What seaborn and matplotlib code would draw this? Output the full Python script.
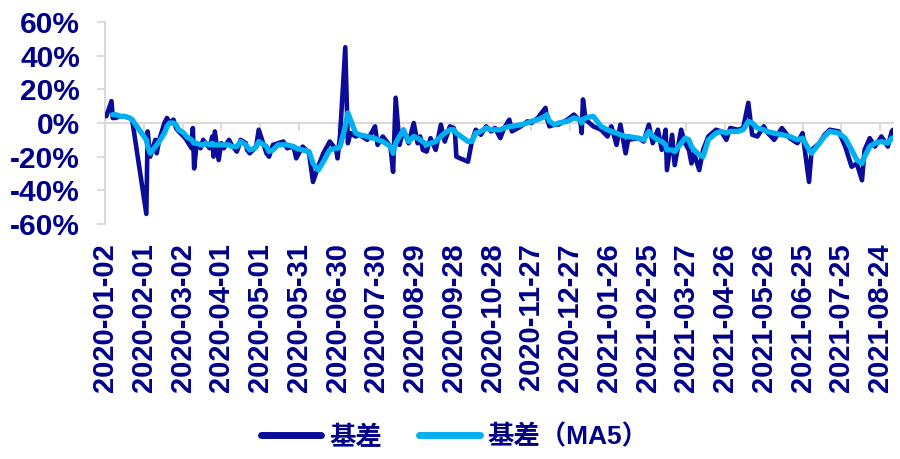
# Basis vs basis MA5 line chart (daily, 2020-01 .. 2021-09)
import numpy as np
import pandas as pd
import seaborn as sns
import matplotlib.pyplot as plt
from matplotlib.ticker import FuncFormatter

# ---- data (values in %) ----
dates = [
    '2020-01-02', '2020-01-03', '2020-01-07', '2020-01-08', '2020-01-10', '2020-01-14', '2020-01-17', '2020-01-21',
    '2020-01-23', '2020-02-03', '2020-02-04', '2020-02-06', '2020-02-10', '2020-02-11', '2020-02-13', '2020-02-17',
    '2020-02-19', '2020-02-21', '2020-02-24', '2020-02-26', '2020-02-28', '2020-03-03', '2020-03-05', '2020-03-09',
    '2020-03-10', '2020-03-11', '2020-03-13', '2020-03-16', '2020-03-18', '2020-03-20', '2020-03-23', '2020-03-25',
    '2020-03-26', '2020-03-27', '2020-03-30', '2020-04-01', '2020-04-03', '2020-04-07', '2020-04-09', '2020-04-13',
    '2020-04-14', '2020-04-16', '2020-04-20', '2020-04-21', '2020-04-23', '2020-04-27', '2020-04-28', '2020-04-30',
    '2020-05-06', '2020-05-08',
    '2020-05-11', '2020-05-15', '2020-05-19', '2020-05-22', '2020-05-27', '2020-05-29', '2020-06-03', '2020-06-08',
    '2020-06-11', '2020-06-15', '2020-06-19', '2020-06-24', '2020-06-29', '2020-06-30', '2020-07-02', '2020-07-06',
    '2020-07-08', '2020-07-10', '2020-07-14', '2020-07-17', '2020-07-23', '2020-07-27', '2020-07-29', '2020-07-31',
    '2020-08-04', '2020-08-10', '2020-08-12', '2020-08-14', '2020-08-17', '2020-08-20', '2020-08-24', '2020-08-28',
    '2020-08-31', '2020-09-02', '2020-09-04',
    '2020-09-07', '2020-09-10', '2020-09-14', '2020-09-18', '2020-09-21', '2020-09-25', '2020-09-28', '2020-09-29',
    '2020-09-30', '2020-10-09', '2020-10-12', '2020-10-15', '2020-10-19', '2020-10-23', '2020-10-27', '2020-10-30',
    '2020-11-03', '2020-11-06', '2020-11-10', '2020-11-12', '2020-11-19', '2020-11-24', '2020-11-27', '2020-12-02',
    '2020-12-08', '2020-12-09', '2020-12-11', '2020-12-15', '2020-12-18', '2020-12-25', '2020-12-30', '2021-01-04',
    '2021-01-05', '2021-01-06', '2021-01-08',
    '2021-01-14', '2021-01-20', '2021-01-25', '2021-01-28', '2021-02-01', '2021-02-04', '2021-02-08', '2021-02-10',
    '2021-02-18', '2021-02-22', '2021-02-26', '2021-03-01', '2021-03-05', '2021-03-08', '2021-03-11', '2021-03-12',
    '2021-03-16', '2021-03-18', '2021-03-23', '2021-03-26', '2021-03-29', '2021-03-31', '2021-04-02', '2021-04-06',
    '2021-04-09', '2021-04-13', '2021-04-19', '2021-04-23', '2021-04-27', '2021-04-30', '2021-05-06', '2021-05-10',
    '2021-05-14',
    '2021-05-17', '2021-05-21', '2021-05-26', '2021-05-28', '2021-06-03', '2021-06-09', '2021-06-15', '2021-06-21',
    '2021-06-25', '2021-06-30', '2021-07-02', '2021-07-08', '2021-07-12', '2021-07-16', '2021-07-23', '2021-07-28',
    '2021-08-02', '2021-08-06', '2021-08-10', '2021-08-12', '2021-08-16', '2021-08-20', '2021-08-25', '2021-08-30',
    '2021-09-02', '2021-09-03',
]

basis = [
    5, 4, 13, 3, 3, 4, 4, 3,
    2, -54, -5, -20, -10, -18, -10, 0,
    3, 0, 2, -3, -5, -8, -10, -15,
    -3, -27, -12, -15, -10, -12, -15, -8,
    -20, -5, -22, -12, -15, -10, -13, -17,
    -15, -10, -12, -16, -18, -15, -14, -4,
    -18, -20,
    -13, -12, -11, -15, -14, -21, -14, -18,
    -35, -26, -18, -11, -16, -21, -7, 45,
    -12, -6, -8, -7, -10, -5, -2, -13,
    -8, -14, -29, 15, -13, -4, -12, 0,
    -12, -8, -16,
    -17, -9, -16, -1, -11, -2, -3, -7,
    -20, -23, -11, -4, -7, -2, -5, -3,
    -9, -3, 2, -5, -2, 1, 0, 3,
    9, 3, -2, -1, -1, 2, 5, 1,
    -6, 14, 2,
    -2, -4, -8, -2, -13, -1, -18, -10,
    -9, -11, -1, -12, -4, -16, -4, -28,
    -7, -25, -4, -12, -16, -24, -18, -28,
    -16, -8, -4, -5, -10, -3, -4, -3,
    12,
    -7, -8, -2, -5, -10, -3, -9, -12,
    -6, -35, -16, -12, -7, -4, -5, -14,
    -26, -24, -34, -16, -9, -14, -8, -14,
    -5, -4,
]

basis_ma5 = [
    np.nan, np.nan, np.nan, 5, 5, 4, 4, 3,
    2, -10, -14, -18, -14, -13, -11, -6,
    -2, 0, 0, -1, -4, -6, -8, -10,
    -11, -12, -12, -13, -13, -12, -13, -12,
    -13, -13, -13, -13, -13, -13, -14, -14,
    -13, -11, -13, -14, -16, -15, -14, -11,
    -14, -17,
    -16, -13, -13, -13, -14, -15, -16, -17,
    -24, -28, -23, -16, -15, -15, -14, -2,
    6, 2, -6, -7, -8, -9, -9, -10,
    -11, -14, -18, -12, -8, -4, -11, -8,
    -9, -10, -11,
    -13, -12, -11, -8, -6, -4, -4, -5,
    -6, -11, -11, -6, -5, -3, -4, -4,
    -4, -3, -2, -2, -1, 0, 1, 2,
    4, 5, 1, -1, 0, 1, 3, 2,
    0, 2, 3,
    4, -2, -4, -5, -6, -7, -8, -8,
    -9, -10, -5, -8, -10, -11, -13, -16,
    -16, -17, -12, -9, -10, -14, -16, -19,
    -20, -10, -6, -5, -6, -5, -5, -4,
    1,
    0, -3, -4, -5, -6, -7, -8, -10,
    -9, -16, -18, -12, -8, -5, -6, -9,
    -16, -22, -24, -20, -14, -12, -11, -12,
    -9, -9,
]

label_basis = '基差'
label_ma5 = '基差（MA5）'

navy = '#00008B'
dark_line = '#0C0C9A'
light_line = '#00B0F0'
grid_grey = '#D9D9D9'

df = pd.DataFrame({'date': pd.to_datetime(dates), 'basis': basis, 'ma5': basis_ma5})

sns.set_theme(style='white')
plt.rcParams['font.family'] = ['Liberation Sans', 'Noto Sans CJK SC', 'DejaVu Sans']
plt.rcParams['font.weight'] = 'bold'

fig = plt.figure(figsize=(9, 4.59), dpi=100)
ax = fig.add_axes([105 / 900, 1 - 224 / 459, (893 - 105) / 900, (224 - 22) / 459])

sns.lineplot(data=df, x='date', y='basis', ax=ax, color=dark_line, linewidth=3.3,
             label=label_basis, zorder=3)
sns.lineplot(data=df.dropna(), x='date', y='ma5', ax=ax, color=light_line, linewidth=3.8,
             label=label_ma5, zorder=4)

ax.set_xlim(df['date'].iloc[0], df['date'].iloc[-1])
ax.set_ylim(-60, 60)
ax.set_yticks(np.arange(-60, 61, 20))
ax.yaxis.set_major_formatter(FuncFormatter(lambda v, p: f'{v:.0f}%'))

tick_dates = pd.date_range('2020-01-02', '2021-09-03', freq='30D')
ax.set_xticks(tick_dates)
ax.set_xticklabels([d.strftime('%Y-%m-%d') for d in tick_dates], rotation=90)

ax.set_xlabel('')
ax.set_ylabel('')
for s in ['top', 'right', 'bottom']:
    ax.spines[s].set_visible(False)
ax.spines['left'].set_color(grid_grey)
ax.spines['left'].set_linewidth(1.5)

ax.tick_params(axis='y', which='major', left=True, length=6, width=1.3, color=grid_grey,
               pad=12, labelsize=21.5, labelcolor=navy)
ax.tick_params(axis='x', which='major', bottom=False, length=0, pad=14,
               labelsize=21, labelcolor=navy)
for t in ax.get_xticklabels() + ax.get_yticklabels():
    t.set_fontweight('bold')

# zero line carrying the date tick marks
zero_axis = ax.secondary_xaxis(0.5)
zero_axis.set_xticks(tick_dates)
zero_axis.tick_params(direction='in', length=6, width=1.3, color=grid_grey, labeltop=False,
                      labelbottom=False)
for s in zero_axis.spines.values():
    s.set_color(grid_grey)
    s.set_linewidth(1.5)

ax.get_legend().remove()
handles, labels = ax.get_legend_handles_labels()
leg = fig.legend(handles, labels, loc='center', bbox_to_anchor=(0.505, 0.048), ncol=2,
                 frameon=False, fontsize=19, handlelength=2.3, handletextpad=0.3,
                 columnspacing=1.4)
for line in leg.get_lines():
    line.set_linewidth(5)
    line.set_solid_capstyle('round')
for t in leg.get_texts():
    t.set_color(navy)
    t.set_fontweight('bold')

fig.savefig('out.png', dpi=100)
